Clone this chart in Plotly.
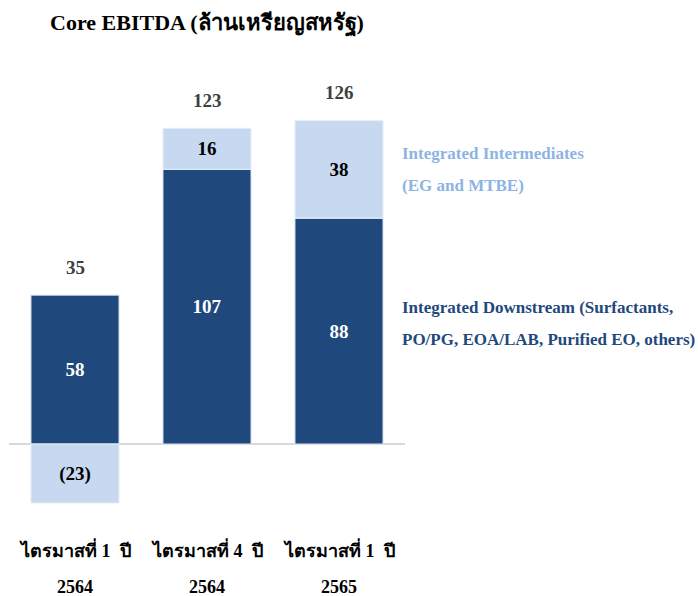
import plotly.graph_objects as go

quarters = ["ไตรมาสที่ 1  ปี", "ไตรมาสที่ 4  ปี", "ไตรมาสที่ 1  ปี"]
years = ["2564", "2564", "2565"]
categories = ["Q1 2564", "Q4 2564", "Q1 2565"]
downstream = [58, 107, 88]
intermediates = [-23, 16, 38]
totals = [35, 123, 126]

DARK = "#1F497D"
LIGHT = "#C6D9F1"
FONT = "Liberation Serif, Times New Roman, serif"


def fmt(v):
    return f"<b>({abs(v)})</b>" if v < 0 else f"<b>{v}</b>"


fig = go.Figure()
fig.add_trace(go.Bar(
    x=categories, y=downstream, name="Integrated Downstream",
    marker=dict(color=DARK, line=dict(color="#DCE4EE", width=1)),
    text=[fmt(v) for v in downstream], textposition="inside",
    insidetextanchor="middle",
    textfont=dict(color="white", size=19, family=FONT),
))
fig.add_trace(go.Bar(
    x=categories, y=intermediates, name="Integrated Intermediates",
    marker=dict(color=LIGHT, line=dict(color="#E6EEF8", width=1)),
    text=[fmt(v) for v in intermediates], textposition="inside",
    insidetextanchor="middle",
    textfont=dict(color="black", size=19, family=FONT),
))

annotations = []
for c, d, i, t in zip(categories, downstream, intermediates, totals):
    top = d + max(i, 0)
    annotations.append(dict(x=c, y=top, xref="x", yref="y", text=f"<b>{t}</b>",
                            showarrow=False, yshift=28,
                            font=dict(family=FONT, size=19, color="#404040")))
for c, q, yr in zip(categories, quarters, years):
    annotations.append(dict(x=c, y=0, xref="x", yref="paper", text=f"<b>{q}</b>",
                            showarrow=False, yshift=-42,
                            font=dict(family=FONT, size=18, color="black")))
    annotations.append(dict(x=c, y=0, xref="x", yref="paper", text=f"<b>{yr}</b>",
                            showarrow=False, yshift=-78,
                            font=dict(family=FONT, size=18, color="black")))

legend_lines = [
    ("Integrated Intermediates", 113.2, "#8DB4E2"),
    ("(EG and MTBE)", 100.8, "#8DB4E2"),
    ("Integrated Downstream (Surfactants,", 53.3, DARK),
    ("PO/PG, EOA/LAB, Purified EO, others)", 40.9, DARK),
]
for txt, yy, col in legend_lines:
    annotations.append(dict(x=0.987, y=yy, xref="paper", yref="y", text=f"<b>{txt}</b>",
                            showarrow=False, xanchor="left",
                            font=dict(family=FONT, size=17, color=col)))

fig.update_layout(
    width=698, height=596,
    margin=dict(l=9, r=293, t=58.5, b=75),
    barmode="relative", bargap=0.333,
    plot_bgcolor="white", paper_bgcolor="white",
    showlegend=False,
    title=dict(text="<b>Core EBITDA (ล้านเหรียญสหรัฐ)</b>", x=207 / 698, xanchor="center",
               y=1 - 22 / 596, yanchor="middle",
               font=dict(family=FONT, size=22, color="black")),
    xaxis=dict(range=[-0.5, 2.5], showticklabels=False, showgrid=False, zeroline=False,
               showline=False, ticks=""),
    yaxis=dict(range=[-30, 150], showticklabels=False, showgrid=False, zeroline=True,
               zerolinecolor="#D9D9D9", zerolinewidth=1.5, showline=False),
    uniformtext=dict(minsize=10, mode="show"),
    annotations=annotations,
)

fig.write_html("out.html", config={"displayModeBar": False},
               post_script="document.body.style.margin='0px';document.body.style.overflow='hidden';")
